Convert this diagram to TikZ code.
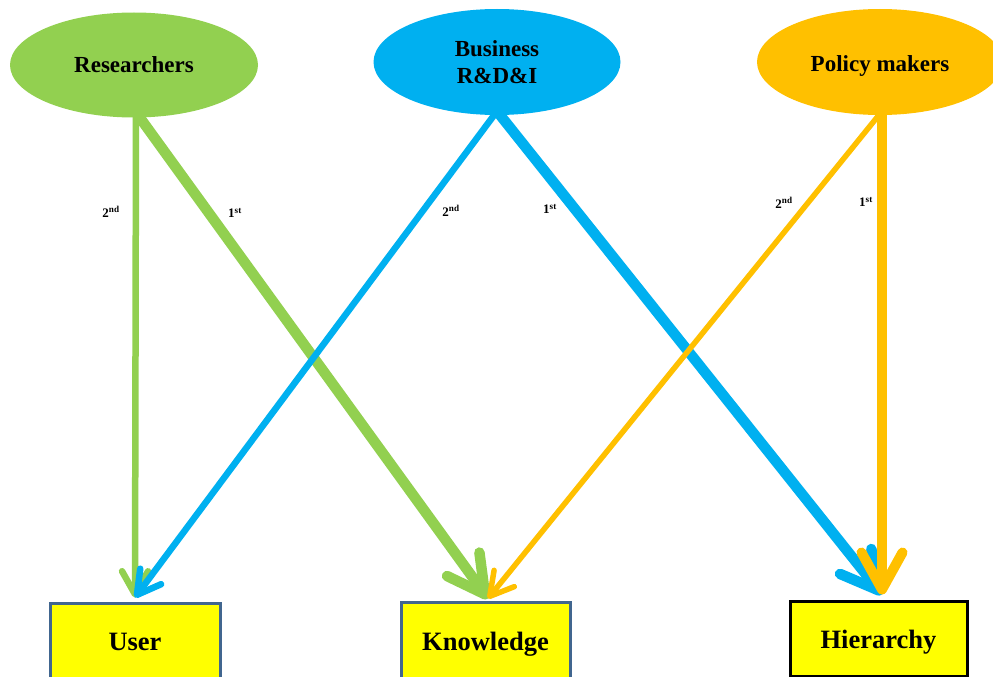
\documentclass[tikz,border=0pt]{standalone}
\usepackage{fontspec}
\setmainfont{Liberation Serif}
\usetikzlibrary{arrows.meta,shapes.geometric,backgrounds}
\definecolor{cgreen}{HTML}{92D050}
\definecolor{cblue}{HTML}{00B0F0}
\definecolor{corange}{HTML}{FFC000}
\definecolor{cyel}{HTML}{FFFF00}
\definecolor{cframe}{HTML}{41668F}
\tikzset{
 actor/.style={ellipse, minimum width=248pt, minimum height=105pt, inner sep=0pt, font=\bfseries\fontsize{23}{25}\selectfont, align=center},
 target/.style={rectangle, fill=cyel, line width=3pt, inner sep=0pt, text depth=0pt, font=\bfseries\fontsize{26.5}{28}\selectfont},
 thinarrow/.style={line width=6.5pt, -{Straight Barb[length=23pt,width=26pt,round,line width=6.5pt]}},
 thickarrow/.style={line width=10.5pt, -{Straight Barb[length=37pt,width=40pt,round,line width=10.5pt]}},
 ord/.style={font=\bfseries\fontsize{13}{14}\selectfont, inner sep=0pt}
}
\begin{document}
\begin{tikzpicture}[x=1pt,y=-1pt]
\useasboundingbox (0,0) rectangle (993,677);
\clip (0,0) rectangle (993,677);
% actors
\node[actor, fill=cgreen, text height=16pt, text depth=0pt] (res) at (134,65) {Researchers};
\node[actor, fill=cblue, minimum width=247pt, minimum height=106pt] (bus) at (497,62) {Business\\[1.5pt]R\&D\&I};
\node[actor, fill=corange, minimum width=246pt, minimum height=106pt, text height=18pt, text depth=0pt] (pol) at (880,62) {Policy makers};
% targets
\node[target, draw=cframe, minimum width=170pt, minimum height=78pt, text height=16pt] (user) at (135,642) {User};
\node[target, draw=cframe, minimum width=169pt, minimum height=78pt, text height=18pt] (know) at (485.5,641) {Knowledge};
\node[target, draw=black, minimum width=177pt, minimum height=75pt, text height=20pt] (hier) at (878.5,638.5) {Hierarchy};
% connectors
\begin{scope}[on background layer]
\fill[white] (0,0) rectangle (993,677);
\draw[thinarrow, cgreen] ([xshift=2pt,yshift=4pt]res.south) -- ([yshift=4pt]user.north);
\draw[thickarrow, cgreen] ([xshift=3pt,yshift=4pt]res.south) -- ([xshift=2.5pt,yshift=2pt]know.north);
\draw[thinarrow, cblue] ([yshift=4pt]bus.south) -- ([yshift=4pt]user.north);
\draw[thickarrow, cblue] ([yshift=4pt]bus.south) -- ([xshift=3.5pt,yshift=5pt]hier.north);
\draw[line width=5.5pt, corange, -{Straight Barb[length=23pt,width=26pt,round,line width=5.5pt]}] ([xshift=2pt,yshift=4pt]pol.south) -- ([xshift=2.5pt,yshift=2pt]know.north);
\draw[line width=10pt, corange, -{Straight Barb[length=37pt,width=41pt,round,line width=10pt]}] ([xshift=2pt,yshift=4pt]pol.south) -- ([xshift=3.5pt,yshift=5pt]hier.north);
\end{scope}
% order labels
\node[ord] (l1) at (111,212) {2\textsuperscript{nd}};
\node[ord] (l2) at (235,213) {1\textsuperscript{st}};
\node[ord] (l3) at (451,211) {2\textsuperscript{nd}};
\node[ord] (l4) at (550,209) {1\textsuperscript{st}};
\node[ord] (l5) at (784,203) {2\textsuperscript{nd}};
\node[ord] (l6) at (866,202) {1\textsuperscript{st}};
\end{tikzpicture}
\end{document}
